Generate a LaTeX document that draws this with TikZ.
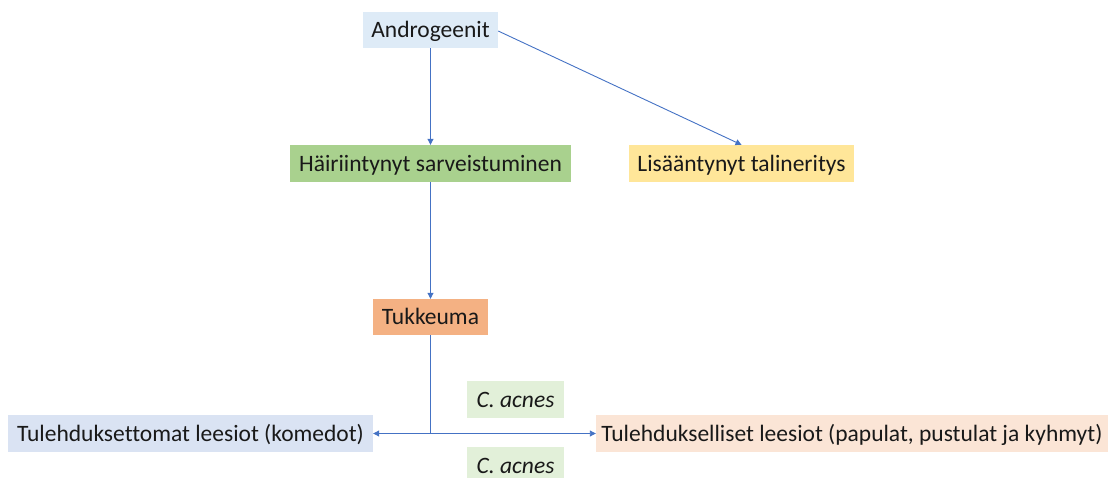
\documentclass[tikz,border=0pt]{standalone}
\usepackage{fontspec}
\setmainfont{Carlito}[Ligatures=NoCommon]
\usetikzlibrary{arrows.meta}
\definecolor{lnc}{HTML}{4472C4}
\definecolor{cA}{HTML}{DEEBF7}
\definecolor{cB}{HTML}{A9D18E}
\definecolor{cC}{HTML}{FFE699}
\definecolor{cD}{HTML}{F4B183}
\definecolor{cE}{HTML}{E2F0D9}
\definecolor{cF}{HTML}{DAE3F3}
\definecolor{cG}{HTML}{FBE5D6}
\tikzset{
  box/.style={inner sep=0pt, text height=16pt, text depth=0pt, font=\fontsize{23.5}{28}\selectfont, text=black!90},
  conn/.style={draw=lnc, line width=0.9pt, -{Triangle[length=6pt,width=6pt]}},
}
\begin{document}
\begin{tikzpicture}[x=1pt,y=-1pt]
\clip (0,0) rectangle (1109,478);
\node[box, fill=cA, minimum width=135pt, minimum height=36pt] (andro) at (430.5,30) {Androgeenit};
\node[box, fill=cB, minimum width=281pt, minimum height=37pt] (hair) at (430.5,163.5) {Häiriintynyt sarveistuminen};
\node[box, fill=cC, minimum width=225pt, minimum height=37pt] (lisa) at (741.5,163.5) {Lisääntynyt talineritys};
\node[box, fill=cD, minimum width=115pt, minimum height=36pt] (tukk) at (430.5,317) {Tukkeuma};
\node[box, fill=cE, minimum width=97pt, minimum height=37pt] (ca1) at (515.5,399.5) {\itshape C. acnes};
\node[box, fill=cE, minimum width=97pt, minimum height=37pt] (ca2) at (515.5,465.5) {\itshape C. acnes};
\node[box, fill=cF, minimum width=365pt, minimum height=37pt] (tul1) at (190.5,433.5) {Tulehduksettomat leesiot (komedot)};
\node[box, fill=cG, minimum width=512pt, minimum height=37pt] (tul2) at (852,433.5) {Tulehdukselliset leesiot (papulat, pustulat ja kyhmyt)};
\coordinate (split) at (430.5,433.5);
\draw[conn] (andro.south) -- (hair.north);
\draw[conn] (andro.east |- 0,31) -- (lisa.north);
\draw[conn] (hair.south) -- (tukk.north);
\draw[draw=lnc, line width=0.9pt] (tukk.south) -- (split);
\draw[conn] (split) -- (tul1.east);
\draw[conn] (split) -- (tul2.west);
\end{tikzpicture}
\end{document}
